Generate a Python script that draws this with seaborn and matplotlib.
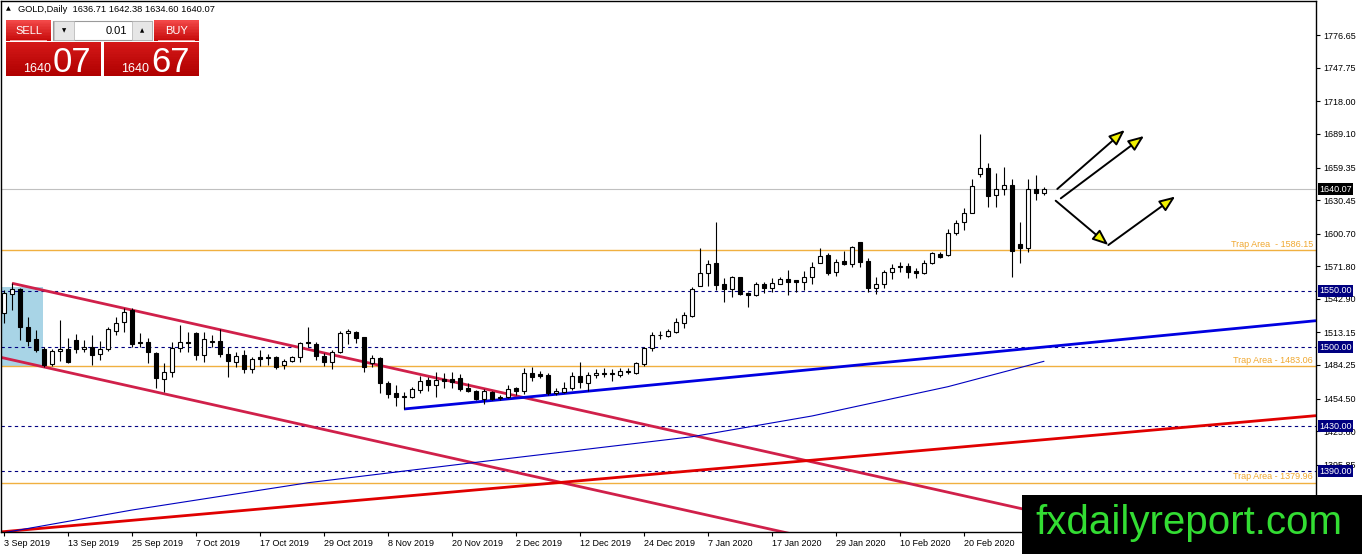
import numpy as np
import pandas as pd
import matplotlib
matplotlib.use("Agg")
import matplotlib.pyplot as plt
import matplotlib.transforms as mtransforms
from matplotlib.patches import Rectangle, FancyArrowPatch
from matplotlib.colors import to_rgb
import seaborn as sns

# ---------------- data ----------------
open_ = [1530.1, 1547.2, 1551.3, 1517.7, 1507.0, 1498.1, 1484.8, 1496.4, 1498.4, 1506.4,
         1498.1, 1500.4, 1494.0, 1498.1, 1514.6, 1522.1, 1533.0, 1504.9, 1504.9, 1495.1,
         1471.6, 1478.3, 1499.0, 1504.9, 1512.3, 1493.1, 1504.9, 1505.8, 1494.0, 1487.2,
         1493.1, 1480.4, 1491.0, 1490.0, 1491.0, 1484.2, 1487.5, 1491.0, 1504.9, 1502.8,
         1492.2, 1487.2, 1495.7, 1512.3, 1513.5, 1508.8, 1485.7, 1490.1, 1468.5, 1459.7,
         1455.9, 1455.6, 1461.9, 1470.9, 1466.5, 1471.8, 1471.5, 1472.4, 1463.6, 1461.2,
         1453.8, 1460.5, 1454.7, 1455.6, 1463.6, 1461.4, 1476.8, 1476.0, 1475.3, 1459.1,
         1460.5, 1463.6, 1474.5, 1468.5, 1475.3, 1476.8, 1476.5, 1475.3, 1477.8, 1477.3,
         1484.8, 1499.0, 1510.5, 1510.2, 1513.7, 1521.2, 1527.7, 1554.5, 1565.5, 1574.9,
         1556.0, 1551.3, 1562.0, 1548.3, 1546.3, 1556.0, 1552.2, 1556.3, 1560.4, 1559.2,
         1558.0, 1562.0, 1574.3, 1581.8, 1566.5, 1576.4, 1573.8, 1593.0, 1576.7, 1552.2,
         1556.0, 1566.4, 1572.2, 1572.0, 1567.6, 1565.5, 1574.9, 1582.7, 1581.8, 1600.9,
         1611.4, 1619.3, 1653.6, 1658.6, 1635.0, 1640.0, 1643.9, 1591.5, 1587.7, 1640.0,
         1636.71]
high = [1550.7, 1556.7, 1552.5, 1527.0, 1515.3, 1500.5, 1498.4, 1524.1, 1507.9, 1511.7,
        1506.4, 1510.8, 1505.8, 1518.2, 1527.1, 1534.5, 1534.5, 1512.3, 1507.9, 1496.0,
        1486.3, 1504.9, 1519.7, 1513.7, 1513.7, 1513.7, 1510.8, 1515.9, 1500.4, 1496.0,
        1497.5, 1491.0, 1497.5, 1494.0, 1492.2, 1489.2, 1492.2, 1504.9, 1518.2, 1504.9,
        1494.6, 1497.5, 1514.6, 1515.9, 1514.4, 1509.3, 1493.1, 1491.0, 1470.3, 1466.5,
        1460.5, 1465.0, 1474.5, 1473.9, 1478.3, 1476.8, 1478.3, 1476.0, 1468.5, 1462.0,
        1462.7, 1461.4, 1457.6, 1466.5, 1465.0, 1481.3, 1482.2, 1479.2, 1476.8, 1463.6,
        1469.4, 1478.3, 1487.2, 1478.3, 1480.4, 1481.3, 1480.4, 1481.3, 1481.3, 1487.2,
        1500.4, 1513.7, 1514.6, 1515.9, 1525.6, 1531.5, 1553.1, 1587.7, 1577.3, 1610.8,
        1561.1, 1563.2, 1562.0, 1549.2, 1558.1, 1558.1, 1561.1, 1562.5, 1568.5, 1559.2,
        1567.5, 1575.8, 1587.7, 1583.3, 1577.9, 1585.6, 1589.7, 1593.6, 1578.8, 1562.5,
        1568.5, 1573.8, 1575.8, 1574.3, 1570.0, 1577.3, 1584.7, 1584.2, 1604.5, 1612.8,
        1623.2, 1648.9, 1689.1, 1663.1, 1654.7, 1659.6, 1648.9, 1611.3, 1648.9, 1652.8,
        1642.38]
low = [1521.2, 1533.0, 1506.4, 1501.1, 1496.0, 1482.7, 1483.0, 1488.0, 1485.7, 1495.0,
       1496.0, 1484.2, 1488.6, 1496.9, 1510.8, 1513.7, 1500.5, 1500.5, 1486.0, 1463.6,
       1460.5, 1473.9, 1496.0, 1496.0, 1488.6, 1487.2, 1499.9, 1491.0, 1473.3, 1482.7,
       1476.9, 1476.9, 1483.3, 1484.0, 1480.4, 1480.4, 1487.0, 1487.0, 1499.9, 1489.0,
       1483.3, 1480.4, 1494.6, 1502.8, 1503.9, 1478.3, 1482.7, 1459.6, 1454.7, 1447.9,
       1444.9, 1454.7, 1459.0, 1461.4, 1456.1, 1463.6, 1463.6, 1461.4, 1460.5, 1453.2,
       1449.6, 1453.0, 1453.0, 1454.7, 1457.6, 1458.5, 1470.3, 1472.4, 1457.6, 1457.6,
       1459.0, 1462.0, 1463.6, 1461.4, 1472.4, 1474.0, 1470.3, 1473.9, 1476.0, 1476.0,
       1483.3, 1497.0, 1507.0, 1509.3, 1512.8, 1516.8, 1527.1, 1554.5, 1554.5, 1550.7,
       1539.7, 1544.8, 1546.3, 1535.3, 1545.4, 1547.8, 1549.2, 1556.0, 1546.3, 1549.0,
       1550.7, 1556.0, 1574.3, 1564.0, 1563.2, 1572.9, 1570.9, 1570.9, 1549.2, 1547.2,
       1552.2, 1560.2, 1566.9, 1561.6, 1561.0, 1564.6, 1573.8, 1578.8, 1580.9, 1599.5,
       1604.0, 1619.3, 1650.7, 1624.6, 1624.0, 1635.0, 1562.5, 1574.9, 1584.7, 1630.6,
       1634.60]
close = [1547.8, 1551.3, 1518.2, 1505.8, 1497.5, 1484.2, 1496.6, 1498.4, 1487.2, 1498.1,
         1500.4, 1493.1, 1498.4, 1515.9, 1521.2, 1530.9, 1502.8, 1503.7, 1496.0, 1472.4,
         1478.3, 1499.0, 1504.4, 1504.0, 1493.1, 1507.3, 1505.8, 1493.7, 1488.0, 1492.5,
         1480.4, 1489.5, 1489.8, 1491.0, 1482.7, 1488.0, 1491.0, 1503.5, 1503.7, 1492.2,
         1487.2, 1496.0, 1512.9, 1514.4, 1508.4, 1482.7, 1490.1, 1468.0, 1458.5, 1455.6,
         1456.5, 1462.7, 1470.3, 1466.5, 1470.9, 1470.3, 1469.4, 1462.7, 1461.2, 1454.1,
         1461.2, 1453.8, 1456.1, 1463.2, 1461.4, 1476.8, 1473.9, 1474.5, 1459.7, 1461.2,
         1463.6, 1474.5, 1469.4, 1475.3, 1476.8, 1476.0, 1477.0, 1479.2, 1479.2, 1485.7,
         1499.0, 1510.8, 1510.8, 1514.4, 1522.1, 1528.6, 1551.6, 1565.5, 1573.8, 1555.1,
         1551.3, 1562.5, 1547.2, 1546.3, 1556.0, 1552.2, 1557.2, 1560.4, 1557.5, 1557.8,
         1561.9, 1570.9, 1581.1, 1566.1, 1575.8, 1573.5, 1588.6, 1575.8, 1552.2, 1556.0,
         1566.4, 1570.0, 1570.9, 1566.9, 1565.5, 1574.9, 1583.3, 1580.3, 1600.9, 1610.4,
         1618.8, 1642.9, 1658.6, 1634.1, 1640.0, 1643.9, 1585.6, 1588.2, 1640.0, 1636.5,
         1640.07]

date_tick_bars = [0, 8, 16, 24, 32, 40, 48, 56, 64, 72, 80, 88, 96, 104, 112, 120]
date_tick_labels = ["3 Sep 2019", "13 Sep 2019", "25 Sep 2019", "7 Oct 2019", "17 Oct 2019",
                    "29 Oct 2019", "8 Nov 2019", "20 Nov 2019", "2 Dec 2019", "12 Dec 2019",
                    "24 Dec 2019", "7 Jan 2020", "17 Jan 2020", "29 Jan 2020", "10 Feb 2020",
                    "20 Feb 2020"]
price_ticks = [1776.65, 1747.75, 1718.00, 1689.10, 1659.35, 1630.45, 1600.70, 1571.80,
               1542.90, 1513.15, 1484.25, 1454.50, 1425.60, 1395.85, 1366.95]

current_price = 1640.07
trap_levels = [1586.15, 1483.06, 1379.96]
trap_texts = ["Trap Area  - 1586.15", "Trap Area - 1483.06", "Trap Area - 1379.96"]
dash_levels = [1550.00, 1500.00, 1430.00, 1390.00]

ma_bars = [0, 16, 38, 59, 86, 101, 118, 130]
ma_vals = [1335.5, 1355.6, 1379.8, 1397.9, 1420.6, 1439.0, 1465.0, 1487.5]

support_bars, support_vals = [50, 164], [1445.2, 1523.5]
red_bars, red_vals = [-0.4, 164], [1336.2, 1439.3]
chan_up_bars, chan_up_vals = [1, 164], [1556.7, 1298.5]
chan_lo_bars, chan_lo_vals = [-0.4, 164], [1491.0, 1230.6]
box_bars, box_vals = [-1.0, 4.9], [1482.7, 1553.0]

arrows = [((131.66, 1640.3), (140.1, 1692.6)),
          ((132.1, 1632.0), (142.5, 1687.3)),
          ((131.46, 1629.9), (138.04, 1590.6)),
          ((138.04, 1590.6), (146.4, 1633.6))]

# ---------------- figure ----------------
sns.set_theme(style="white")
plt.rcParams["font.family"] = ["Liberation Sans", "DejaVu Sans"]

W, H = 1362, 554
fig = plt.figure(figsize=(W / 100, H / 100), dpi=100)
fig.patch.set_facecolor("white")


def fx(x):
    return x / W


def fy(y):
    return 1 - y / H


ax = fig.add_axes([fx(1), fy(532), (1316 - 1) / W, (532 - 1) / H])
ax.set_facecolor("white")
ax.set_xlim(-0.375, 164)
ax.set_ylim(1336.12, 1807.0)

df = pd.DataFrame({"bar": np.arange(len(open_)), "open": open_, "high": high,
                   "low": low, "close": close})
up = df["close"] >= df["open"]
body_lo = np.minimum(df["open"], df["close"])
body_h = np.maximum((df["close"] - df["open"]).abs(), 0.45)

# light blue zone
ax.add_patch(Rectangle((box_bars[0], box_vals[0]), box_bars[1] - box_bars[0],
                       box_vals[1] - box_vals[0], fc="#a8d4e6", ec="none", zorder=0.5))

# horizontal levels
ax.axhline(current_price, color="#c0c0c0", lw=0.8, zorder=1)
for v in trap_levels:
    ax.axhline(v, color="#f0b040", lw=1.0, zorder=1)
for v in dash_levels:
    ax.axhline(v, color="#000080", lw=0.8, ls=(0, (3.0, 3.0)), zorder=1)

# trend lines
ax.plot(chan_up_bars, chan_up_vals, color="#d0204a", lw=2.0, zorder=2, solid_capstyle="butt")
ax.plot(chan_lo_bars, chan_lo_vals, color="#d0204a", lw=2.0, zorder=2, solid_capstyle="butt")
ax.plot(red_bars, red_vals, color="#e00000", lw=2.0, zorder=2, solid_capstyle="butt")
ax.plot(support_bars, support_vals, color="#0000e0", lw=2.0, zorder=2, solid_capstyle="butt")
sns.lineplot(x=ma_bars, y=ma_vals, ax=ax, color="#0000c0", lw=0.8, zorder=2)

# candles
ax.vlines(df["bar"], df["low"], df["high"], color="black", lw=0.8, zorder=3)
ax.bar(df["bar"][up], body_h[up], bottom=body_lo[up], width=0.62, color="white",
       edgecolor="black", linewidth=0.8, zorder=4)
ax.bar(df["bar"][~up], body_h[~up], bottom=body_lo[~up], width=0.62, color="black",
       edgecolor="black", linewidth=0.8, zorder=4)

# arrows
for a, b in arrows:
    ar = FancyArrowPatch(a, b, arrowstyle="-|>,head_length=0.95,head_width=0.38",
                         mutation_scale=10, fc="#f0f000", ec="black", lw=1.4,
                         shrinkA=0, shrinkB=0, zorder=6)
    ax.add_patch(ar)

# axes styling
for s in ax.spines.values():
    s.set_color("black")
    s.set_linewidth(1.0)
ax.yaxis.tick_right()
ax.set_yticks(price_ticks)
ax.set_yticklabels([f"{t:.2f}" for t in price_ticks])
ax.set_xticks(date_tick_bars)
ax.set_xticklabels(date_tick_labels)
for lab in ax.get_xticklabels():
    lab.set_ha("left")
ax.tick_params(axis="y", which="both", right=True, left=False, length=3, width=0.8,
               pad=2, labelsize=6.5, colors="black", direction="out")
ax.tick_params(axis="x", which="both", bottom=True, length=3, width=0.8, pad=2,
               labelsize=6.5, colors="black", direction="out")
ax.set_xlabel("")
ax.set_ylabel("")
ax.grid(False)

trans = mtransforms.blended_transform_factory(ax.transAxes, ax.transData)
for v in dash_levels:
    ax.text(1.0 + 3 / 1315, v, f"{v:.2f}", transform=trans, ha="left", va="center",
            color="white", fontsize=6.5, clip_on=False, zorder=10,
            bbox=dict(boxstyle="square,pad=0.15", fc="#000080", ec="none"))
ax.text(1.0 + 3 / 1315, current_price, f"{current_price:.2f}", transform=trans, ha="left",
        va="center", color="white", fontsize=6.5, clip_on=False, zorder=10,
        bbox=dict(boxstyle="square,pad=0.15", fc="black", ec="none"))
for v, t in zip(trap_levels, trap_texts):
    ax.text(1.0 - 3 / 1315, v + 1.2, t, transform=trans, ha="right", va="bottom",
            color="#f0a830", fontsize=6.5, zorder=10)

# ---------------- header + trade panel ----------------
fig.text(fx(6), fy(9), "\u25B2", fontsize=4.5, va="center", ha="left", color="black",
         family=["DejaVu Sans"], zorder=30)
fig.text(fx(18), fy(9), "GOLD,Daily  1636.71 1642.38 1634.60 1640.07", fontsize=6.7,
         va="center", ha="left", color="black", zorder=30)


def rect(x0, y0, x1, y1, fc, ec="none", lw=0.0, z=30):
    fig.add_artist(Rectangle((fx(x0), fy(y1)), (x1 - x0) / W, (y1 - y0) / H,
                             transform=fig.transFigure, fc=fc, ec=ec, lw=lw, zorder=z))


def grad_rect(x0, y0, x1, y1, c_top, c_bot, n=14):
    ct, cb = np.array(to_rgb(c_top)), np.array(to_rgb(c_bot))
    h = (y1 - y0) / n
    for k in range(n):
        c = np.clip(ct + (cb - ct) * k / (n - 1), 0, 1)
        rect(x0, y0 + k * h, x1, y0 + (k + 1) * h + 0.3, tuple(c))


grad_rect(6, 20, 51, 41, "#f24848", "#c80c0c")
grad_rect(154, 20, 199, 41, "#f24848", "#c80c0c")
grad_rect(6, 42, 101, 76, "#d41818", "#b00000")
grad_rect(104, 42, 199, 76, "#d41818", "#b00000")
rect(10, 40, 47, 41, "#f4a0a0", z=31)
rect(158, 40, 195, 41, "#f4a0a0", z=31)
rect(53, 21, 152, 40, "white", ec="#9a9a9a", lw=0.8)
rect(53.5, 21.5, 74, 39.5, "#e6e6e6", ec="#b0b0b0", lw=0.5, z=31)
rect(132, 21.5, 151.5, 39.5, "#e6e6e6", ec="#b0b0b0", lw=0.5, z=31)
fig.text(fx(64), fy(30.5), "\u25BC", fontsize=4, ha="center", va="center",
         family=["DejaVu Sans"], color="black", zorder=32)
fig.text(fx(142), fy(30.5), "\u25B2", fontsize=4, ha="center", va="center",
         family=["DejaVu Sans"], color="black", zorder=32)
fig.text(fx(127), fy(30.5), "0.01", fontsize=8, ha="right", va="center", color="black",
         zorder=32)
fig.text(fx(28.5), fy(30.5), "SELL", fontsize=8, ha="center", va="center", color="white",
         zorder=32)
fig.text(fx(176.5), fy(30.5), "BUY", fontsize=8, ha="center", va="center", color="white",
         zorder=32)
fig.text(fx(23), fy(72), "1640", fontsize=9, ha="left", va="baseline", color="white",
         zorder=32)
fig.text(fx(53), fy(72), "07", fontsize=25, ha="left", va="baseline", color="white",
         zorder=32)
fig.text(fx(121), fy(72), "1640", fontsize=9, ha="left", va="baseline", color="white",
         zorder=32)
fig.text(fx(151), fy(72), "67", fontsize=25, ha="left", va="baseline", color="white",
         zorder=32)

# ---------------- watermark ----------------
fig.add_artist(Rectangle((fx(1022), 0), (W - 1022) / W, (H - 495) / H,
                         transform=fig.transFigure, fc="black", ec="none", zorder=40))
fig.text(fx(1189), fy(523), "fxdailyreport.com", color="#33dd33", fontsize=29,
         ha="center", va="center", zorder=41)

fig.savefig("out.png", dpi=100, facecolor="white")
